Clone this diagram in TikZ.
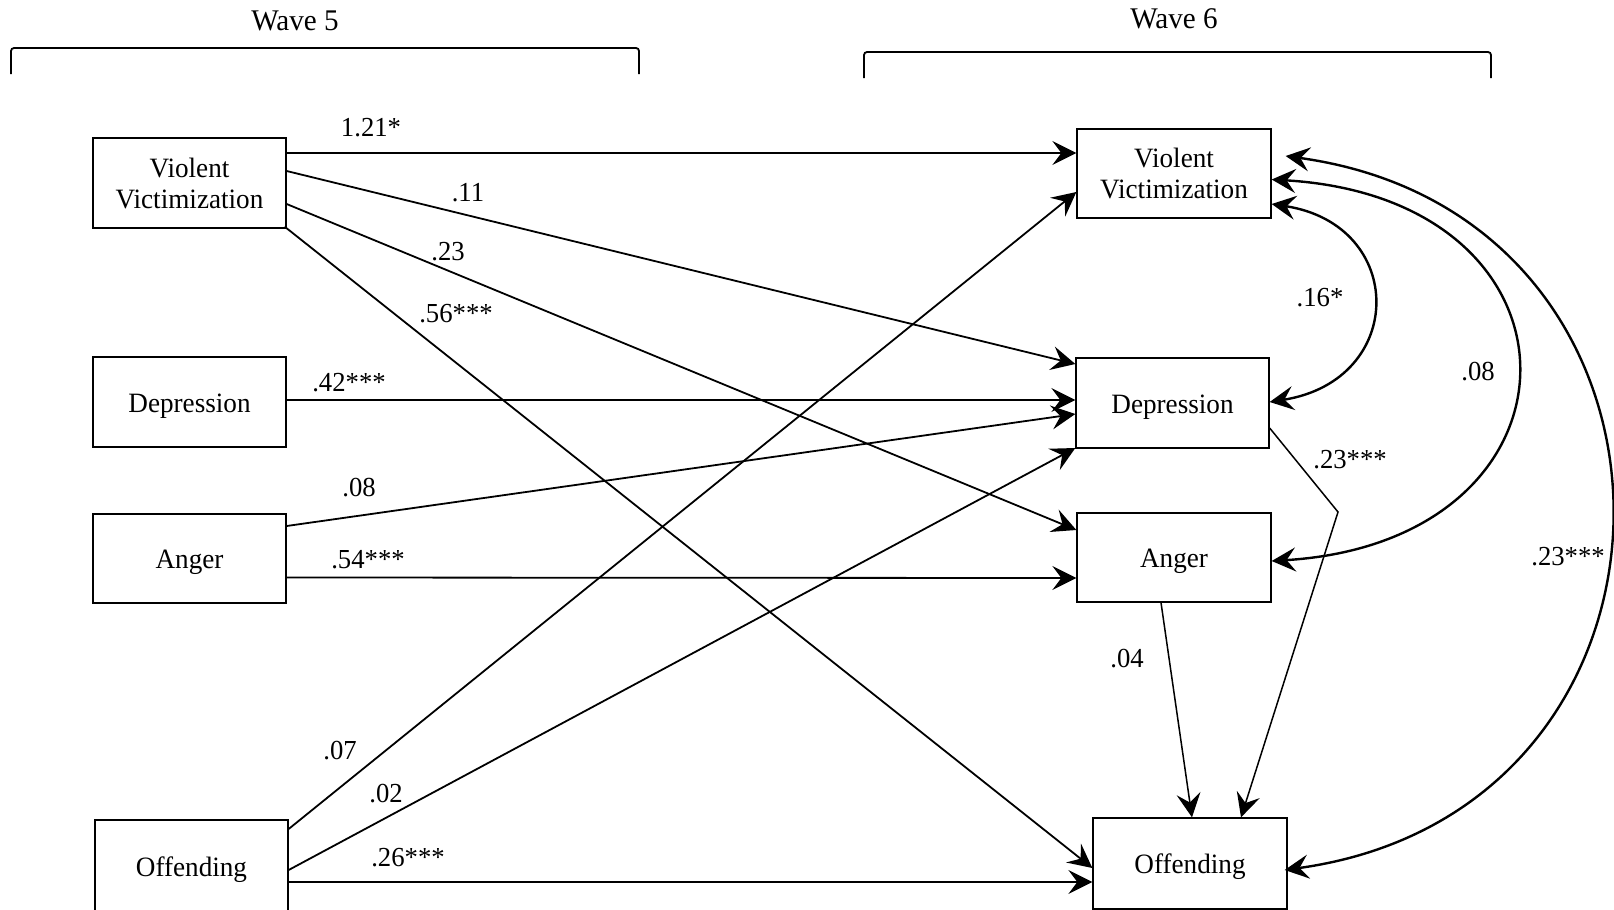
\documentclass[tikz,border=0pt]{standalone}
\usepackage{fontspec}
\setmainfont{Liberation Serif}[FakeStretch=0.97]
\usetikzlibrary{arrows.meta}
\begin{document}
\begin{tikzpicture}[x=1pt,y=-1pt,
  box/.style={draw, line width=1.3pt, minimum width=193pt, inner sep=0pt, align=center, font=\fontsize{28}{31}\selectfont},
  one/.style={text height=20pt, text depth=0pt},
  lbl/.style={font=\fontsize{27.5}{30}\selectfont, inner sep=0pt},
  wave/.style={font=\fontsize{30}{32}\selectfont, inner sep=0pt},
  tip/.tip={Stealth[length=24pt,width=24pt,inset=9pt]},
  arr/.style={line width=1.8pt, -tip},
  dbl/.style={line width=2.4pt, tip-tip},
  brk/.style={line width=1.8pt, rounded corners=3pt}]
\useasboundingbox (0,0) rectangle (1614,910);
% brackets
\draw[brk] (11,74) -- (11,48) -- (639,48) -- (639,74);
\draw[brk] (864,78) -- (864,52) -- (1491,52) -- (1491,78);
\node[wave] (w5) at (295,21) {Wave 5};
\node[wave] (w6) at (1174,19) {Wave 6};
% wave 5 boxes
\node[box, minimum height=90pt] (vv5) at (189.5,183) {Violent\\Victimization};
\node[box, one, minimum height=90pt] (dep5) at (189.5,402) {Depression};
\node[box, one, minimum height=89pt] (ang5) at (189.5,558.5) {Anger};
\node[box, one, minimum height=92pt] (off5) at (191.5,866) {Offending};
% wave 6 boxes
\node[box, minimum height=89pt, minimum width=194pt] (vv6) at (1174,173.5) {Violent\\Victimization};
\node[box, one, minimum height=90pt] (dep6) at (1172.5,403) {Depression};
\node[box, one, minimum height=89pt, minimum width=194pt] (ang6) at (1174,557.5) {Anger};
\node[box, one, minimum height=91pt, minimum width=194pt] (off6) at (1190,863.5) {Offending};
% cross-lagged and stability paths
\draw[arr] ([yshift=30pt]vv5.east) -- ([yshift=20.5pt]vv6.west);
\draw[arr] ([yshift=12pt]vv5.east) -- ([yshift=39pt]dep6.west);
\draw[arr] ([yshift=-21pt]vv5.east) -- ([yshift=27.5pt]ang6.west);
\draw[arr] ([xshift=-2pt,yshift=2pt]vv5.south east) -- ([yshift=-4.5pt]off6.west);
\draw[arr] ([yshift=2pt]dep5.east) -- ([yshift=3pt]dep6.west);
\draw[arr] ([yshift=32.5pt]ang5.east) -- ([yshift=-11pt]dep6.west);
\draw[arr] ([yshift=-19pt]ang5.east) -- ([yshift=-20.5pt]ang6.west);
\draw[arr] ([yshift=37pt]off5.east) -- ([yshift=-18.5pt]vv6.west);
\draw[arr] ([yshift=-4pt]off5.east) -- ([yshift=-45pt]dep6.west);
\draw[arr] ([yshift=-16pt]off5.east) -- ([yshift=-18.5pt]off6.west);
% within wave 6
\coordinate (kink) at (1338,512);
\draw[arr, line width=1.5pt] ([yshift=-25pt]dep6.east) -- (kink) -- ([xshift=51pt]off6.north);
\draw[arr, line width=1.5pt] ([xshift=-13pt]ang6.south) -- ([xshift=2pt]off6.north);
% correlations
\draw[dbl] ([yshift=-30.5pt]vv6.east) .. controls (1407,225) and (1407,380) .. ([yshift=1pt]dep6.east);
\draw[dbl] ([yshift=-6pt]vv6.east) .. controls (1600,199) and (1597,541) .. ([yshift=-3.5pt]ang6.east);
\draw[dbl] ([xshift=14pt,yshift=17.5pt]vv6.east) .. controls (1719,216) and (1718,810) .. ([xshift=-3pt,yshift=-6.5pt]off6.east);
% labels
\node[lbl] (l1) at (371,128) {1.21*};
\node[lbl] (l2) at (468,193) {.11};
\node[lbl] (l3) at (448,252) {.23};
\node[lbl] (l4) at (456,314) {.56***};
\node[lbl] (l5) at (349,383) {.42***};
\node[lbl] (l6) at (359,488) {.08};
\node[lbl] (l7) at (368,560) {.54***};
\node[lbl] (l8) at (340,751) {.07};
\node[lbl] (l9) at (386,794) {.02};
\node[lbl] (l10) at (408,858) {.26***};
\node[lbl] (l11) at (1320,298) {.16*};
\node[lbl] (l12) at (1478,372) {.08};
\node[lbl] (l13) at (1350,460) {.23***};
\node[lbl] (l14) at (1127,659) {.04};
\node[lbl] (l15) at (1568,557) {.23***};
\end{tikzpicture}
\end{document}
